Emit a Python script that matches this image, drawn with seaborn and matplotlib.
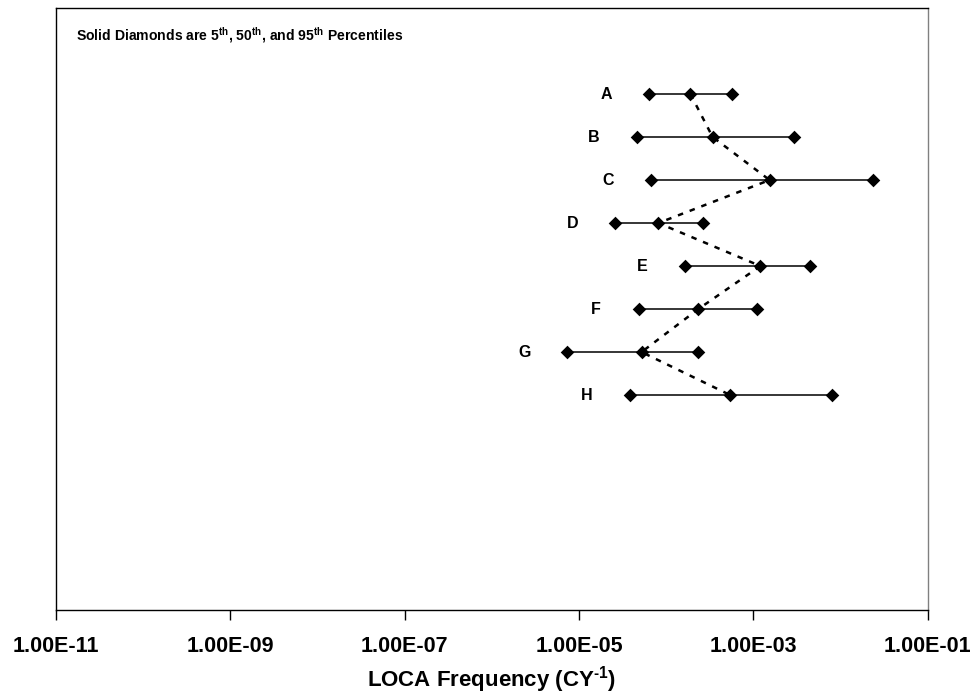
import pandas as pd
import matplotlib.pyplot as plt
import matplotlib.ticker as mticker
import seaborn as sns

sns.set_style("white")
plt.rcParams['font.family'] = ['Liberation Sans', 'DejaVu Sans']
plt.rcParams['mathtext.fontset'] = 'custom'
plt.rcParams['mathtext.rm'] = 'Liberation Sans:bold'
plt.rcParams['mathtext.bf'] = 'Liberation Sans:bold'
plt.rcParams['text.color'] = 'black'
plt.rcParams['axes.labelcolor'] = 'black'
plt.rcParams['xtick.color'] = 'black'

# (CY^-1)
cases = ['A', 'B', 'C', 'D', 'E', 'F', 'G', 'H']
p05 = [6.4e-5, 4.6e-5, 6.7e-5, 2.6e-5, 1.65e-4, 4.9e-5, 7.3e-6, 3.8e-5]
p50 = [1.89e-4, 3.4e-4, 1.53e-3, 8.1e-5, 1.2e-3, 2.33e-4, 5.2e-5, 5.4e-4]
p95 = [5.7e-4, 2.9e-3, 2.33e-2, 2.66e-4, 4.5e-3, 1.11e-3, 2.33e-4, 7.9e-3]
xticks = [1e-11, 1e-9, 1e-7, 1e-5, 1e-3, 1e-1]

rows = list(range(1, len(cases) + 1))
wide = pd.DataFrame({'case': cases, 'row': rows, 'p05': p05, 'p50': p50, 'p95': p95})
df = wide.melt(id_vars=['case', 'row'], var_name='pct', value_name='freq')

fig = plt.figure(figsize=(9.73, 6.98), dpi=100)
ax = fig.add_axes([0.0576, 0.126, 0.896, 0.8625])

# dashed line through the medians
sns.lineplot(data=wide, x='p50', y='row', sort=False, estimator=None,
             color='black', lw=1.8, ax=ax)
ax.lines[-1].set_dashes((2.2, 2.8))

# 5th-95th range lines
sns.lineplot(data=df, x='freq', y='row', units='case', estimator=None,
             color='black', lw=1.1, ax=ax)

sns.scatterplot(data=df, x='freq', y='row', marker='D', s=48, color='black',
                edgecolor='black', linewidth=0, zorder=5, ax=ax)

for c, r, x in zip(cases, rows, p05):
    ax.annotate(c, (x, r), xytext=(-31, 0), textcoords='offset points',
                ha='center', va='center', fontsize=11.5, fontweight='bold')

ax.text(0.023, 0.955,
        r'Solid Diamonds are 5$^{\mathrm{th}}$, 50$^{\mathrm{th}}$, and 95$^{\mathrm{th}}$ Percentiles',
        transform=ax.transAxes, fontsize=10.1, fontweight='bold', va='center')

ax.set_xscale('log')
ax.set_xlim(1e-11, 1e-1)
ax.set_ylim(13, -1)
ax.xaxis.set_major_locator(mticker.FixedLocator(xticks))
ax.xaxis.set_minor_locator(mticker.NullLocator())
ax.xaxis.set_major_formatter(mticker.FuncFormatter(lambda v, p: '{:.2E}'.format(v)))
ax.set_yticks([])
ax.tick_params(axis='x', direction='out', length=7, width=1, bottom=True, pad=12,
               labelsize=15.5)
for lab in ax.get_xticklabels():
    lab.set_fontweight('bold')
for sp in ax.spines.values():
    sp.set_color('black')
    sp.set_linewidth(1)
ax.spines['right'].set_color('#808080')

ax.set_ylabel('')
ax.set_xlabel(r'LOCA Frequency (CY$^{\text{-1}}$)', fontsize=16, fontweight='bold',
              labelpad=5)

fig.savefig('out.png', dpi=100)
